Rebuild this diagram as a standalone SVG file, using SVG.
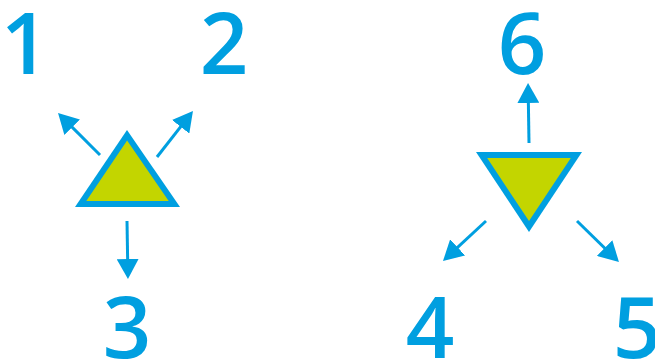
<svg xmlns="http://www.w3.org/2000/svg" width="655" height="360" viewBox="0 0 655 360">
<style>
.num{font-family:"Open Sans","DejaVu Sans",sans-serif;font-weight:600;font-size:85px;fill:#009fe0;text-anchor:middle}
.edge{stroke:#009fe0;stroke-width:3;fill:none}
.outer{fill:#009fe0}
.inner{fill:#c3d500}
</style>
<defs>
<marker id="ah" markerUnits="userSpaceOnUse" markerWidth="20" markerHeight="22" refX="10" refY="11" orient="auto" viewBox="0 0 20 22">
<path d="M0,0 L20,11 L0,22 z" fill="#009fe0"/>
</marker>
</defs>
<g id="node-up">
<polygon class="outer" points="127,130 75,207 180,207"/>
<polygon class="inner" points="127.1,140.6 86.3,201 168.7,201"/>
</g>
<g id="node-down">
<polygon class="outer" points="476,152 582,152 529,232"/>
<polygon class="inner" points="487.2,158 570.8,158 529,221.1"/>
</g>
<g id="label-1"><text class="num" x="25" y="74">1</text></g>
<g id="label-2"><text class="num" x="224" y="74">2</text></g>
<g id="label-3"><text class="num" x="127" y="358">3</text></g>
<g id="label-4"><text class="num" x="430" y="358">4</text></g>
<g id="label-5"><text class="num" x="637" y="358">5</text></g>
<g id="label-6"><text class="num" x="522" y="74">6</text></g>
<g id="connectors">
<line class="edge" x1="100" y1="155" x2="65.1" y2="120.1" marker-end="url(#ah)"/>
<line class="edge" x1="157" y1="157" x2="186.8" y2="118.9" marker-end="url(#ah)"/>
<line class="edge" x1="127" y1="221" x2="127.8" y2="269" marker-end="url(#ah)"/>
<line class="edge" x1="529" y1="143" x2="528.2" y2="93" marker-end="url(#ah)"/>
<line class="edge" x1="486" y1="221" x2="450.3" y2="254.2" marker-end="url(#ah)"/>
<line class="edge" x1="577" y1="221" x2="611.8" y2="255" marker-end="url(#ah)"/>
</g>
</svg>
